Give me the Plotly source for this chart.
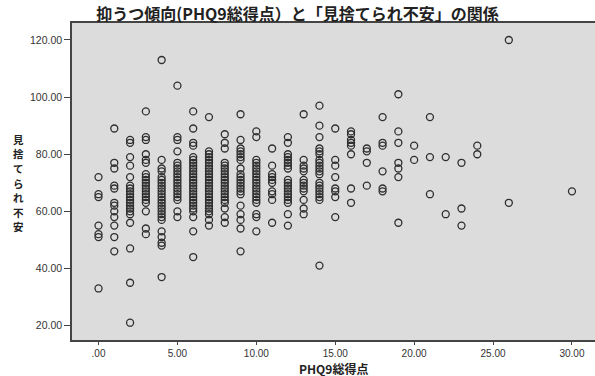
import plotly.graph_objects as go

# PHQ9 total score (x) and abandonment-anxiety score (y), grouped by score column
phq9_total = (
    [0] * 7 + [1] * 12 + [2] * 20 + [3] * 20 + [4] * 25 + [5] * 20 + [6] * 27 + [7] * 26
    + [8] * 21 + [9] * 21 + [10] * 21 + [11] * 10 + [12] * 19 + [13] * 13 + [14] * 20
    + [15] * 8 + [16] * 8 + [17] * 4 + [18] * 6 + [19] * 7 + [20] * 2 + [21] * 3
    + [22] * 2 + [23] * 3 + [24] * 2 + [26] * 2 + [30] * 1
)
abandonment_anxiety = (
    [72, 66, 65, 55, 52, 51, 33]
    + [89, 77, 75, 69, 68, 63, 62, 60, 58, 55, 51, 46]
    + [85, 84, 79, 76, 72, 69, 68, 67, 66, 65, 64, 63, 62, 61, 60, 59, 56, 47, 35, 21]
    + [95, 86, 85, 80, 78, 77, 73, 72, 71, 70, 69, 68, 67, 66, 65, 64, 63, 60, 54, 52]
    + [113, 78, 75, 74, 72, 71, 70, 69, 68, 67, 66, 65, 64, 63, 62, 61, 60, 59, 58, 57, 53, 51, 49, 48, 37]
    + [104, 86, 85, 81, 77, 76, 75, 74, 73, 72, 71, 70, 69, 68, 67, 66, 65, 64, 60, 58]
    + [95, 89, 84, 83, 79, 78, 77, 76, 75, 74, 73, 72, 71, 70, 69, 68, 67, 66, 65, 64, 63, 62, 61, 60, 58, 53, 44]
    + [93, 81, 80, 79, 78, 77, 76, 75, 74, 73, 72, 71, 70, 69, 68, 67, 66, 65, 64, 63, 62, 61, 60, 59, 57, 55]
    + [87, 84, 82, 77, 76, 75, 74, 73, 72, 71, 70, 69, 68, 67, 66, 65, 64, 63, 61, 58, 56]
    + [94, 85, 82, 81, 80, 79, 78, 75, 73, 72, 71, 70, 69, 68, 67, 66, 62, 59, 57, 54, 46]
    + [88, 86, 78, 77, 76, 75, 74, 73, 72, 71, 70, 69, 68, 67, 66, 65, 64, 63, 59, 58, 53]
    + [82, 76, 73, 72, 71, 70, 67, 66, 64, 56]
    + [86, 84, 80, 79, 78, 77, 76, 75, 71, 70, 69, 68, 67, 66, 65, 64, 63, 59, 55]
    + [94, 78, 76, 75, 74, 71, 70, 69, 68, 67, 64, 61, 59]
    + [97, 90, 86, 82, 81, 80, 78, 77, 76, 75, 74, 73, 70, 69, 68, 67, 66, 65, 64, 41]
    + [89, 78, 76, 72, 68, 67, 65, 58]
    + [88, 87, 85, 84, 83, 80, 68, 63]
    + [82, 81, 77, 69]
    + [93, 84, 83, 74, 68, 67]
    + [101, 88, 84, 77, 75, 72, 56]
    + [83, 78]
    + [93, 79, 66]
    + [79, 59]
    + [77, 61, 55]
    + [83, 80]
    + [120, 63]
    + [67]
)

x_tick_vals = [0, 5, 10, 15, 20, 25, 30]
x_tick_text = [".00", "5.00", "10.00", "15.00", "20.00", "25.00", "30.00"]
y_tick_vals = [20, 40, 60, 80, 100, 120]
y_tick_text = ["20.00", "40.00", "60.00", "80.00", "100.00", "120.00"]

title_text = "抑うつ傾向(PHQ9総得点）と「見捨てられ不安」の関係"
x_title = "PHQ9総得点"
y_title = "見捨てられ不安"

CJK = "Noto Sans CJK JP"
LAT = "Liberation Sans, Arial, sans-serif"

fig = go.Figure()
fig.add_trace(go.Scatter(
    x=phq9_total, y=abandonment_anxiety, mode="markers",
    marker=dict(symbol="circle-open", size=7, color="#2e2e2e",
                line=dict(width=1.3, color="#2e2e2e")),
    hoverinfo="x+y", showlegend=False,
))

W, H = 595, 376
L, R, T, B = 72, 0, 23, 36
plot_w = W - L - R
plot_h = H - T - B

annotations = [
    dict(text="<b>" + x_title + "</b>", xref="paper", yref="paper",
         x=0.5, y=(H - B - 368.5) / plot_h, xanchor="center", yanchor="middle",
         showarrow=False, borderpad=0,
         font=dict(family=CJK, size=12, color="#222222")),
]
# vertical (stacked) y-axis title, one character per line
char_step = 14.6
first_center = 183 - char_step * (len(y_title) - 1) / 2
for i, ch in enumerate(y_title):
    py = first_center + i * char_step
    annotations.append(dict(
        text="<b>" + ch + "</b>", xref="paper", yref="paper",
        x=(18 - L) / plot_w, y=(H - B - py) / plot_h,
        xanchor="center", yanchor="middle", showarrow=False, borderpad=0,
        font=dict(family=CJK, size=10.5, color="#222222")))

fig.update_layout(
    width=W, height=H,
    margin=dict(l=L, r=R, t=T, b=B),
    paper_bgcolor="white",
    plot_bgcolor="#dcdcdc",
    title=dict(text="<b>" + title_text + "</b>", x=0.5, xref="container",
               y=1 - 14 / H, yref="container", xanchor="center", yanchor="middle",
               font=dict(family=CJK, size=16, color="#222222")),
    xaxis=dict(range=[-1.68, 31.46], tickvals=x_tick_vals, ticktext=x_tick_text,
               showgrid=False, zeroline=False, showline=True, linecolor="#444444",
               linewidth=1.5, mirror=True, ticks="outside", ticklen=3, tickcolor="#444444",
               tickfont=dict(family=LAT, size=10, color="#333333")),
    yaxis=dict(range=[14.95, 125.95], tickvals=y_tick_vals, ticktext=y_tick_text,
               showgrid=False, zeroline=False, showline=True, linecolor="#444444",
               linewidth=1.5, ticks="outside", ticklen=6, tickcolor="#444444",
               tickfont=dict(family=LAT, size=10.5, color="#333333")),
    annotations=annotations,
)

fig.write_html("out.html", config={"displayModeBar": False},
               post_script="document.body.style.margin='0';document.body.style.overflow='hidden';")
